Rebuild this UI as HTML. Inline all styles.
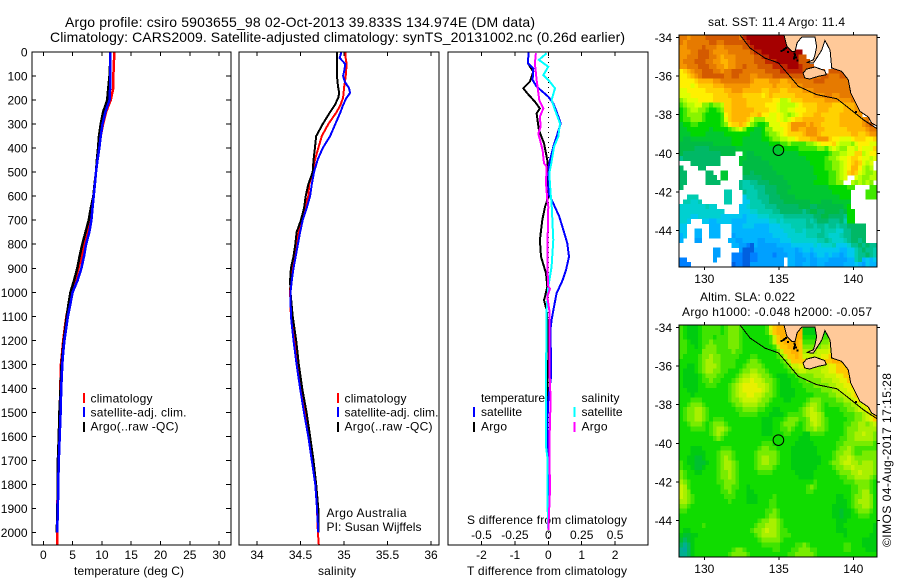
<!DOCTYPE html>
<html lang="en">
<head>
<meta charset="utf-8">
<title>Argo profile</title>
<style>
html,body{margin:0;padding:0;background:#fff;}
svg{display:block;}
text{font-family:"Liberation Sans",sans-serif;font-size:12px;fill:#000;}
.crisp{shape-rendering:crispEdges;}
</style>
</head>
<body>
<svg id="chart" xmlns="http://www.w3.org/2000/svg" width="900" height="580" viewBox="0 0 900 580">
<rect x="0" y="0" width="900" height="580" fill="#fff"/>
<text x="65" y="27" font-size="14" style="font-size:14px" textLength="470">Argo profile: csiro 5903655_98 02-Oct-2013 39.833S 134.974E (DM data)</text>
<text x="50" y="42" style="font-size:14px" textLength="575">Climatology: CARS2009. Satellite-adjusted climatology: synTS_20131002.nc (0.26d earlier)</text>

<text x="74" y="575" textLength="110">temperature (deg C)</text>
<text x="318" y="575" textLength="38">salinity</text>
<text x="467" y="575" textLength="160">T difference from climatology</text>
<text x="467" y="524" textLength="160">S difference from climatology</text>

<text x="90.5" y="402.5" textLength="62">climatology</text>
<text x="90.5" y="416.5" textLength="96">satellite-adj. clim.</text>
<text x="90.5" y="430.5" textLength="88">Argo(..raw -QC)</text>
<text x="344.5" y="402.5" textLength="62">climatology</text>
<text x="344.5" y="416.5" textLength="94">satellite-adj. clim.</text>
<text x="344.5" y="430.5" textLength="88">Argo(..raw -QC)</text>
<text x="326.5" y="517" textLength="80">Argo Australia</text>
<text x="326.5" y="531" textLength="95">PI: Susan Wijffels</text>

<text x="481" y="402" textLength="64">temperature</text>
<text x="581.5" y="402" textLength="38">salinity</text>
<text x="481" y="416" textLength="41">satellite</text>
<text x="481" y="430.5" textLength="26">Argo</text>
<text x="581.5" y="416" textLength="41">satellite</text>
<text x="581.5" y="430.5" textLength="26">Argo</text>

<text x="708" y="26" textLength="137">sat. SST: 11.4 Argo: 11.4</text>
<text x="700" y="301" textLength="95">Altim. SLA: 0.022</text>
<text x="682" y="316" textLength="190">Argo h1000: -0.048 h2000: -0.057</text>
<text transform="translate(891,547) rotate(-90)" textLength="174">©IMOS 04-Aug-2017 17:15:28</text>
</svg>
<script>
// ---------- chart data ----------
const depthTicks = [0,100,200,300,400,500,600,700,800,900,1000,1100,1200,1300,1400,1500,1600,1700,1800,1900,2000];
const tempTicks = [0,5,10,15,20,25,30];
const salTicks = [34,34.5,35,35.5,36];
const salTickLabels = ['34','34.5','35','35.5','36'];
const dtTicks = [-2,-1,0,1,2];
const dsTicks = [-0.5,-0.25,0,0.25,0.5];
const dsTickLabels = ['-0.5','-0.25','0','0.25','0.5'];
const lonTicks = [130,135,140];
const latTicks = [-34,-36,-38,-40,-42,-44];

const tempDepths = [0,50,100,150,200,250,300,350,400,450,500,550,600,650,700,750,800,850,900,950,1000,1050,1100,1150,1200,1250,1300,1400,1500,1600,1700,1800,1900,2000,2050];
const tempClim = [12.1,12.05,11.95,11.95,11.5,10.7,10.2,9.8,9.5,9.2,9.0,8.8,8.6,8.35,8.0,7.55,7.05,6.55,6.0,5.45,4.85,4.35,3.95,3.65,3.4,3.2,3.0,2.9,2.8,2.65,2.55,2.45,2.4,2.35,2.35];
const tempArgo = [11.4,11.4,11.3,11.1,10.9,10.2,9.8,9.5,9.35,9.15,9.0,8.75,8.55,8.1,7.75,7.2,6.65,6.2,5.8,5.25,4.65,4.3,4.0,3.75,3.5,3.3,3.1,2.95,2.75,2.65,2.5,2.5,2.4,2.3];
const tempSat = [11.4,11.4,11.4,11.4,11.3,10.6,10.1,9.8,9.55,9.25,9.0,8.8,8.6,8.4,8.2,7.85,7.3,6.95,6.5,5.85,5.0,4.6,4.2,3.9,3.6,3.4,3.25,3.05,2.95,2.8,2.65,2.55,2.5,2.35];

const salDepths = [0,25,50,75,100,125,150,170,190,220,250,300,350,400,450,500,550,600,650,700,750,800,850,900,950,1000,1100,1200,1300,1400,1500,1600,1700,1800,1900,2000,2050];
const salClim = [35.02,35.02,35.03,35.025,35.02,35.01,35.0,34.995,34.99,34.96,34.915,34.82,34.745,34.705,34.665,34.64,34.6,34.59,34.55,34.51,34.48,34.45,34.425,34.4,34.385,34.38,34.39,34.43,34.46,34.5,34.55,34.6,34.64,34.67,34.69,34.7,34.71];
const salArgo = [34.92,34.92,34.92,34.92,34.92,34.925,34.935,34.945,34.935,34.895,34.84,34.755,34.68,34.665,34.65,34.64,34.59,34.56,34.54,34.505,34.455,34.44,34.42,34.39,34.38,34.385,34.41,34.45,34.48,34.52,34.57,34.61,34.65,34.68,34.705,34.705];
const salSat = [34.97,34.95,35.015,35.005,34.99,35.01,35.057,35.07,35.03,34.99,34.96,34.9,34.84,34.755,34.695,34.655,34.63,34.61,34.57,34.525,34.495,34.47,34.445,34.42,34.4,34.385,34.39,34.42,34.455,34.495,34.54,34.59,34.63,34.67,34.69,34.705];

const dtSatDepths = [0,47,68,116,144,186,214,248,297,352,394,463,533,595,630,685,740,796,852,907,949,1004,1060,1115,1150,1351,1448,1552,1990];
const dtSat = [-0.59,-0.61,-0.45,-0.47,-0.35,0,0.15,0.25,0.37,0.25,0.15,0.03,0,0.02,0.15,0.33,0.45,0.57,0.62,0.53,0.43,0.25,0.17,0.1,0.07,0.08,0,-0.03,0];
const dtArgoDepths = [0,47,82,123,151,172,207,235,255,325,380,450,547,602,644,699,782,852,921,976,1018,1032,1074,1170,1281,1323,1545,1990];
const dtArgo = [-0.59,-0.61,-0.45,-0.55,-0.75,-0.63,-0.4,-0.25,-0.35,-0.28,-0.13,-0.03,-0.03,0,-0.1,-0.18,-0.25,-0.22,-0.07,-0.03,-0.1,-0.13,-0.05,0,0,-0.03,-0.03,0];
const dsSatDepths = [5,33,61,96,116,151,200,241,297,352,394,456,505,588,630,782,893,977,1074,1087,1379,1642,1684,1850,1989];
const dsSat = [-0.0125,-0.07,0,-0.0375,0,0.05,0.025,0.05,0.0875,0.075,0.0425,0.025,0.0075,0.0175,0.025,0.0375,0.025,0,-0.0125,-0.0125,-0.0175,-0.0175,-0.0075,-0.0075,0];
const dsArgoDepths = [5,47,116,200,235,269,311,339,408,463,477,547,616,644,782,893,977,984,1018,1074,1087,1310,1448,1642,1822,1989];
const dsArgo = [-0.0925,-0.1,-0.0875,-0.0675,-0.0375,-0.0625,-0.0575,-0.075,-0.0425,-0.0325,-0.0125,-0.0175,-0.0075,0,-0.005,-0.0075,0,0.0125,-0.0075,0.0075,0.0075,0.0075,0.0175,0.0075,0.0125,0];

// map palettes: one letter per colour class; '.' = no data
const sstColors = {A:'#a50000',B:'#c02800',C:'#d45a00',D:'#e67a00',E:'#f59500',F:'#ffb400',G:'#ffd200',H:'#fff000',I:'#e0ff00',J:'#b8ff00',K:'#88f400',L:'#40e800',M:'#00d800',N:'#00c830',O:'#00bb44',P:'#00b866',Q:'#00c090',R:'#00ccb0',S:'#00d0d0',T:'#00c8f0',U:'#00b4ff',V:'#00a0ff',W:'#0080ff',X:'#0060e0'};
const slaColors = {F:'#ffb000',G:'#ffc800',H:'#e8f000',I:'#c8f400',J:'#a8f000',K:'#78ec00',L:'#40e400',M:'#10dc00',N:'#00cc10',O:'#00c030',P:'#00b860',Q:'#00b090',R:'#00a8a0'};
const sstGrid = [
"DDEDDDDCCCCCCCCCDBAAAAAAAAAAA",
"DEDDDDDDCCDDCCCCCCBAAAAAAAAAA",
"EEDDDDCDDDEEDDDDDCCBAAAAAAAAAA",
"EEEDDCCCDEEEEDDDDDDCBBAAAAAAAAAAA",
"EEDDDCCCDDEFEEEDDDDDCCBBAAAAAAAACC",
"EDDDCCCDDEEFFEEDDDDDCCCBBBAAAAAACCC",
"EEDDDCCCDDEEFEEDDCDDDCCCCBBBBAAABCCC",
"HGFEDDCCCDDEDDCCCDDDDDDCCCCBBBBBBCCCCCC.CCCC",
"HHGFEDCCCCCCDDCCDDDEEDDDDCCCCCCCCCCCDDCCDDDCCCC",
"HHHHGFFFFEEDDDDDDDDEFFFFEEEFFEEDDDDDCCCDDDDDDD",
"HHHIHGGGGFFFEEEEEEEFFFFFFEFFFFEEEDDDDDDDDDDDDD",
"IIHHHHHGGGGGFFEEEFFFFFGGFFFGGFFFFEEEDDDDDDDDDD",
"IIIHHHHHHGGGGFFFFGGGGGHGFGGGGGGFFFFFEEEDDEEDDDD",
"KJIIIHHHHGGGGGFFFFGGGGGGGHHJJIGGGFFFFFFEEEEEEEDDC",
"LKJJIIKKLKKJGGFFFFGGGGGHHHIJJJJIHGGGGFFFFGGGFFFEE",
"MLKJJKKLMMLKGGFFFFFFGGGGHHIJJIIHHHGGGFFFGGGGFFFEE",
"MLKKKKLMMMMLHGFFFFFGGFHHIIHIJKJIHGGGFFGGGGGFFFFFE",
"MLLKKKLMMMMLIGFFFFGIKKKIIIHIJIHGGFFFFFFGGGGFFFFFFED",
"NMMLLMMMMMMLKHGGFGIKLMMLIIIHHGEEEEFEFFGGGGGFFFFFFEDC",
"NNMMMMMMNMMMMLKJIKMMNNMKKIIIHGEEFFEEEFFGGGGGGFFFFFEDD",
"NNNMMMMNNNNNMMMMMMMNNNMLKKJIHGGGGFEEEFGGGGGGGGFFGGFEE",
"NOONNNNNNNNNNNMMMNNNNNMMLKKJJIIHGGGFFEEEGHHIIIHGGGHHG",
"OOOOOOOOONNNNNMMMNNNNNNNMMMLLKLLLLKKJIHHHGIJJJKIHHHII",
"OOOOPPPPOOOOOOONNNNNNNNNNNNMMMMMLLLLLKKLJIJKKIIJHIIIG",
"OPPPPPPPPPPOOOO..NOONNNNNNNNNNNNMMMMMMMMLKKJJIIGGJIHH",
"QPPPPPPPPPP.....NNOOOONNNNNNNNNNNNMMMMMLKKJIIHGGHIIJI",
"...PPPPPPPP.....NOOOOOOONNNNNNNNNNNMMMMLLKKJIHGFGIJI.",
"P....PP..........OOOOOOOONNNNNNNNNNNMMMLLKKJIHFFHJKJ.",
"PP.....PP..NN....OOPOOOOOONNNNNNNNNNMMMMLLKJIGFGIJKKJ",
"PP.....PPP.NN....PPPPPOOOOOONNNNNNNNNMMMLLKJI..IJKKJJ",
"PP.....PPPP.....QRRQQPPPOOOOONNNNNNNMMMMLLKK..JKJKJK",
"P...............QRRRQQQPPPOOOONNNNNNNNNNMMMMMLL....LL",
"............RR...QRRRQQPPPOOONNNNNNNNNNNNMMMMM....LLL",
"..RRR.......RR...TRRRQQQPPPOOOONNNNNNNNNNNNMMM....LLL",
".RRSSR......RR...TTRRRQQPPPPOOOOOOONNNOOONNNNN......",
"SSSSSSSRSS......TTSRRRRQQQPPPPPPOOOPPOOOOOOONM......",
"SSSSSSSSSSSS....TTTSSRRRRQQPPPPPPQPOOPPOOOOPOMM.....",
"SSSTTSSSSSSTTTTTTUTTTSSSRRRRQQQQQQQQPPOOPPPPQMM.....",
"SST...TTUUTTTTUUUUTTTTTTSSRSRRRRRRQRQPPPQQQPRMM.....",
"TT......UUU...UUUTTTUUUUTTTSSSRRRRQQRQQRQQRQQPPPPP...",
"TT..UU..UUU...UUUUUUUUUUTTTTSSSRRSRRRRQRRRSSQQPPPP...",
"UT..UU..UUU...VUUUUUUUUUUTTTTSSSSSRRRQQRSSSRQQPPPP...",
"U...VV.......UUVVUUUUVVUUUUTTTSSSSSSSRRQRSSSRQPPQP...",
"..............UUVVWXUVVVVVUUUUTTTTTTSTSSSRTTTSQQPQPQQ",
".........VV.....VXXXVVVVVVVVUUUVUTTUTTTTTTTUUTTRQPQQR",
".........VV...WWWXXWWVVVVWVVVUUVVUUVUTTUTUUVUTTRQQPQR",
"WW.......V....WWWXXWWVVVVVVV.UUVVVUVVUUUVVVVVUURQUTUT",
"WWW...........XWWXXVVVVVVVVV.UUVVUUVVUUVVVVVUUUTUVTUU"
];
const slaGrid = [
"LMNNNMLLLLLMLKKKLMMMMMMLHGFFFFFFFNNNNNNNLLLLLLLLLLLLL",
"LMNNNMLLLLLMLKKKLMMMMMMLIGFFFFFFFNNNNNMMKKKKKKKKKKKKK",
"LMNNNMLLLMLLLKKKLMMMMMMMLIGFFFFFFMMMMMLLJJIIIIIIIIIII",
"LLMNNMLLKLLLLKKKLMMMMMMMLIGGFFFFGLLLLLKKJIIHHHHHHHHHH",
"LLMMNMLKKKLLLKKKLMMMMMMMMLIGGFFFGKKKKKJJIIHHGGGGGGGGG",
"LLMMMMKKKKLLLLKLLMMMMMMMMMKIGGFFGJJJJIIIHHGGGGFFFFFFF",
"LMMMMLKKJKKLLLLLMMMLLMMMMMLKIGGFGIIIIIHHGGFFFFFFFFFFF",
"MMMMMLKJJKKLLLLMMMLKKLMMMMMLKIGGGGHHIIHGGFFFFFFFFFFFF",
"MMNNMLKJJJKLLLLMMLKKKKLMMMMMLKIIHHHIIJJIHHGGGFFFFFFFF",
"MNNNMLKJJKKLLMMMLKKJJKKLMMMMMLKJIIJJJJIIHHGGGFFFFFFFF",
"MNNNNMLKKKLLMMMLKJJIIJKKLMNNNMMLKKKKJJJIIIHHGGGFFFFFF",
"MNNNNMLLKLLMMMLKJIIHIIJKKLMNNNMMLLKKKKJJJIIHHGGFFFFFF",
"MNNNNMMLLLMMMLKJIHHHHIIJKLMNNNMMMLLLKKKKJJIIHHGGFFFFF",
"MMNNNMMMMMMMMLKJIHHHHHIJKLMNNNNMMMLLLLKKKJJIIHHGGFFFF",
"MMMNMMMMMMMMMLKJIIHHIIJKKLMNNNNMMMMMLLLLKKJJIIHGGFFFF",
"MMMLLLMMMMMMMLKKJIIIIJKKLMMMNNMMMMLKKKLLLLKKJJIHGGFFF",
"MMLKKKLMMMMMMMLKKJJJJKKLMMMMMMMMMLKJJKLMLLLLKKJJIHGFF",
"MLKKJJKLMMMMMMMLLKKKKLLMMNNMMMMMLKJIJKLMMMMLLKKJIIHGF",
"MLKKJJKLMMMMMMMMLLLLLMMMNNNNMLLLLKJIIJKMMMMMLLLKKJIHG",
"MLKKJJKLMLLLMMMMMMMMMMNNNMMMLKKKLLKIIJKLMMMMMLLKKJIHG",
"MMLKKKLMLKKKLMMMMMMMMMNNNMMLKKKLMLKJIJKLMMMMLLKKJJKJI",
"MMMLLLLMLKJJKLMMMMMMMMNNNMMLLKLMMLKKJKKLMMMMLKKKJJJJJ",
"MMMMMMMMLKJKLMMMMMMMMMNNNMMMLLMMMNNLLLLMMMMMLKKJJIJJK",
"MMMMMMMMMLKLMMMMMMMMMMMMMMMMMMMMNNNMMMMMMMMLLKKJJJJJK",
"MMMMMMMMMMMMMMMMMMMMMMLLLMMMMMMNNNNNMMMMMMLLKKKKKKKKL",
"MMMNNNMMMMMLLLMMMMMMMLKKLLMMMMNNNNNNNMMMMMLKKJKLLLLLL",
"MMMNNNNMMMLKKKLMMMMMLKKKKKLMMMNNNNNNNMMMMLKKJJKLLKKKK",
"MMNNOONMMMLKJKLMMMMMLKJJKKLMMMNNNNNNNNMMMLKJJIJKKKKKK",
"LMNNOOONMMLKJJKLMMMMLKJJKKLMMMNNNNNNNNMMLKKJIIJJKJJJK",
"LMMNOONMMMLKJJKLMMMMLKKKKLMMMMNNNNNNNMMMMLKKJJIJJJJJK",
"KLMMNNMMMMLKKJKLMMMMMLLLLMMMMMMNNNNNMMMMMMLKKKJJIJJJK",
"KLMMMMMMMMLKKJKLMMMMMMMMMMMMMMMMNNNNMMMMMMMLLKKJJJJKL",
"JKLMMMMMMMLLKKKLMMMMMMMMMMMMMMMMMMMMLMMMMMMMLLLKKKKLM",
"IJLMMMMMMMMLKKLLMMNMMMMMMMMMMMMMMMLKLMMMMMMMMMLLKKKLM",
"IJKMMMMMMMMLLKLMMMNNMMMMMMMMMMMMMMLLMMMMMMMMMMLLKJJLM",
"IJKLMMMMMMMMLLLMMMNNNMMMMLMMMMMMMMMMMMMMMMNNMMLKKJJKM",
"JJKLMMMMMMMMMLMMMMNNNMMMLLMMMMMMMMMMMMMMMMNNNMLKJJJKM",
"KKLMMMMMMMMMMMMMMMMMMMMMLLMMMMMMMMMMMMMMMNNNNMLKKJJKM",
"LLMMMMMMMMMMMMMMMMMMMMMLLKLMMMMMMMMMMMMMMNNONNMLKKKLM",
"MMMMMMMMMMMMMMMMMMMMMMMLKKLMMMMMMMMMMMMMMNNONNMMLLLMM",
"MMMMMMMMMMMMMMMMMMMMMLKKJJKLMMMMMMMMMMMMMMNNNMMMMMMMM",
"MMMMMMLMMMMMMMMMMMMMLKKJJJKLMMMMMMMMMMMMMMNNMMMMMMMMN",
"MNNMMMMMMMMMMMMMMMMLKKJIJJKLLMMMMMMMMMMMMMNNNMMMMMMMN",
"NOONNMMMMMMMMMMMMMMMLKJJJJKLLLMMMMMMMMMMMMMMNMMMMMMNN",
"OPONMMMMMMMMMMMMMMMMMLKKKKKLMMMMMMMMMMMMMMMMMMMMMNNNN",
"PQPNMMMMMMMMMMMMMMMMMMLLLLLMMMMLLKLMMMMMMMMMLLMMMNNNN",
"QRPNMMMMMMMMMMLKKLMMMMMMMLLMMMLLKKKLLMMMMMMMLLMMMMNNN",
"QQPNMMMMMMMMMLKKKKLMMMMMMMMMMLLKKKKKLMMMMMMMMMMMMMMMM"
];
// coastline geography, lon/lat
const coastLon = [135.35,135.55,135.89,136.09,136.23,136.56,137.43,137.54,137.43,137.32,136.88,137.32,137.88,138.10,138.44,138.55,139.22,139.66,139.83,140.45,141.01,141.23,141.61,141.61];
const coastLat = [-33.88,-34.48,-34.74,-34.74,-34.28,-33.97,-33.97,-34.48,-34.90,-35.16,-35.3,-35.33,-34.66,-34.16,-34.66,-35.58,-35.76,-36.19,-36.88,-37.83,-38.12,-38.43,-38.60,-33.88];
const islandLon = [136.63,136.86,137.41,138.08,138.19,137.63,137.07,136.74];
const islandLat = [-35.84,-35.64,-35.53,-35.71,-35.93,-36.02,-36.15,-36.10];
const shelfLon = [132.40,133.07,134.07,134.97,135.75,136.31,137.54,138.89,139.56,140.67,141.61];
const shelfLat = [-33.88,-34.55,-35.07,-35.32,-36.02,-36.53,-36.96,-37.17,-37.57,-38.26,-38.74];
const reefLon = [135.1,135.25,135.3,135.4,135.55,135.97,136.03,136.0,136.1,135.95,136.2,140.1];
const reefLat = [-34.65,-34.6,-34.55,-34.5,-34.7,-34.78,-34.85,-34.95,-35.0,-35.05,-35.15,-37.8];
const profileLon = 134.974;
const profileLat = -39.833;

// ---------- axis functions ----------
const yDepth = d => 52 + d * 0.2403;
const xTemp = t => 43.3 + 5.86 * t;
const xSal = s => 257 + 87 * (s - 34);
const xDT = v => 548.3 + 33.4 * v;
const xDS = v => 548.3 + 133.6 * v;
const xLon = lon => 704.3 + 14.9 * (lon - 130);
const yLat = (lat, top) => top + 2.4 + 19.33 * (-34 - lat);

const svg = document.getElementById('chart');
const NS = 'http://www.w3.org/2000/svg';
function mk(tag, attrs, parent) {
  const el = document.createElementNS(NS, tag);
  for (const k in attrs) el.setAttribute(k, attrs[k]);
  (parent || svg).appendChild(el);
  return el;
}

function frame(x, y, w, h, name) {
  const el = mk('rect', {x: x, y: y, width: w, height: h, fill: 'none', stroke: '#000', 'stroke-width': 1, class: 'crisp'});
  
  
}
function tick(x1, y1, x2, y2, name) {
  const el = mk('line', {x1: x1, y1: y1, x2: x2, y2: y2, stroke: '#000', 'stroke-width': 1, class: 'crisp'});
  
  
}
function label(x, y, str, anchor, name) {
  const el = mk('text', {x: x, y: y, 'text-anchor': anchor});
  el.textContent = str;
  
  
}
function series(depths, values, xFn, color, width, name) {
  const pts = values.map((v, i) => xFn(v).toFixed(1) + ',' + yDepth(depths[i]).toFixed(1)).join(' ');
  const el = mk('polyline', {points: pts, fill: 'none', stroke: color, 'stroke-width': width, class: 'crisp'});
  
  
}
function legendBar(x, y, color, name) {
  const el = mk('rect', {x: x, y: y, width: 2, height: 10, fill: color, class: 'crisp'});
  
  
}

// ---------- panels ----------
const PT = 52, PB = 545;
// temperature panel
series(tempDepths, tempClim, xTemp, '#ff0000', 2.5, 'temperature-climatology-line');
series(tempDepths, tempArgo, xTemp, '#000000', 2.5, 'temperature-argo-line');
series(tempDepths, tempSat, xTemp, '#0000ff', 2.5, 'temperature-satellite-line');
frame(32, PT, 199, PB - PT, 'temperature-panel-frame');
depthTicks.forEach(d => {
  tick(32, yDepth(d), 36, yDepth(d), 'depth-tick-left');
  tick(231, yDepth(d), 226, yDepth(d), 'depth-tick-right');
  label(27.5, yDepth(d) + 4.5, String(d), 'end', 'depth-tick-label');
});
tempTicks.forEach(t => {
  tick(xTemp(t), PT, xTemp(t), PT + 4, 'temperature-tick-top');
  tick(xTemp(t), PB, xTemp(t), PB - 4, 'temperature-tick-bottom');
  label(xTemp(t), 559, String(t), 'middle', 'temperature-tick-label');
});
legendBar(83, 393, '#ff0000', 'legend-bar-climatology-t');
legendBar(83, 407, '#0000ff', 'legend-bar-satellite-t');
legendBar(83, 422, '#000000', 'legend-bar-argo-t');

// salinity panel
series(salDepths, salClim, xSal, '#ff0000', 2, 'salinity-climatology-line');
series(salDepths, salArgo, xSal, '#000000', 2, 'salinity-argo-line');
series(salDepths, salSat, xSal, '#0000ff', 2, 'salinity-satellite-line');
frame(239, PT, 200, PB - PT, 'salinity-panel-frame');
salTicks.forEach((s, i) => {
  tick(xSal(s), PT, xSal(s), PT + 4, 'salinity-tick-top');
  tick(xSal(s), PB, xSal(s), PB - 4, 'salinity-tick-bottom');
  label(xSal(s), 559, salTickLabels[i], 'middle', 'salinity-tick-label');
});
legendBar(337, 393, '#ff0000', 'legend-bar-climatology-s');
legendBar(337, 407, '#0000ff', 'legend-bar-satellite-s');
legendBar(337, 422, '#000000', 'legend-bar-argo-s');

// difference panel
const zero = mk('line', {x1: xDT(0), y1: PT, x2: xDT(0), y2: PB, stroke: '#000', 'stroke-width': 1, 'stroke-dasharray': '1 4', class: 'crisp'});


series(dtArgoDepths, dtArgo, xDT, '#000000', 2, 'delta-t-argo-line');
series(dtSatDepths, dtSat, xDT, '#0000ff', 2, 'delta-t-satellite-line');
series(dsSatDepths, dsSat, xDS, '#00ffff', 2, 'delta-s-satellite-line');
series(dsArgoDepths, dsArgo, xDS, '#ff00ff', 2, 'delta-s-argo-line');
frame(448, PT, 200, PB - PT, 'difference-panel-frame');
dtTicks.forEach(v => {
  tick(xDT(v), PT, xDT(v), PT + 4, 'delta-t-tick-top');
  tick(xDT(v), PB, xDT(v), PB - 4, 'delta-t-tick-bottom');
  label(xDT(v), 559, String(v), 'middle', 'delta-t-tick-label');
});
dsTicks.forEach((v, i) => {
  label(xDS(v), 539, dsTickLabels[i], 'middle', 'delta-s-tick-label');
});
legendBar(473, 407, '#0000ff', 'legend-bar-satellite-dt');
legendBar(473, 422, '#000000', 'legend-bar-argo-dt');
legendBar(573.5, 407, '#00ffff', 'legend-bar-satellite-ds');
legendBar(573.5, 422, '#ff00ff', 'legend-bar-argo-ds');

// ---------- maps ----------
const LON0 = 128.33, LAT0 = -33.88, DLL = 0.25;
function path(lons, lats, top) {
  return lons.map((lon, i) => (i ? 'L' : 'M') + xLon(lon).toFixed(1) + ' ' + yLat(lats[i], top).toFixed(1)).join(' ');
}
function drawMap(grid, palette, top, prefix) {
  const left = 679, w = 198, h = 232;
  const g = mk('g', {'clip-path': 'url(#' + prefix + '-clip)'});
  
  
  const defs = mk('defs', {});
  const cp = mk('clipPath', {id: prefix + '-clip'}, defs);
  mk('rect', {x: left, y: top, width: w, height: h}, cp);
  grid.forEach((row, r) => {
    for (let c = 0; c < 53; c++) {
      const key = row[c];
      if (!key || key === '.') continue;
      const x0 = xLon(LON0 + c * DLL), x1 = xLon(LON0 + (c + 1) * DLL);
      const y0 = yLat(LAT0 - r * DLL, top), y1 = yLat(LAT0 - (r + 1) * DLL, top);
      const cell = mk('rect', {x: x0.toFixed(2), y: y0.toFixed(2), width: (x1 - x0 + 0.3).toFixed(2), height: (y1 - y0 + 0.3).toFixed(2), fill: palette[key], class: 'crisp'}, g);
      
      
    }
  });
  const land = mk('path', {d: path(coastLon, coastLat, top) + ' Z', fill: '#ffc999', stroke: '#000', 'stroke-width': 1, class: 'crisp'}, g);
  
  
  const island = mk('path', {d: path(islandLon, islandLat, top) + ' Z', fill: '#ffc999', stroke: '#000', 'stroke-width': 1, class: 'crisp'}, g);
  
  
  const shelf = mk('path', {d: path(shelfLon, shelfLat, top), fill: 'none', stroke: '#000', 'stroke-width': 1, class: 'crisp'}, g);
  
  
  reefLon.forEach((lon, i) => {
    const dot = mk('rect', {x: xLon(lon).toFixed(1), y: yLat(reefLat[i], top).toFixed(1), width: 2, height: 2, fill: '#000', class: 'crisp'}, g);
    
    
  });
  const marker = mk('circle', {cx: xLon(profileLon), cy: yLat(profileLat, top), r: 5.3, fill: 'none', stroke: '#000', 'stroke-width': 1}, g);
  
  
  frame(left, top, w, h, prefix + '-map-frame');
  lonTicks.forEach(lon => {
    tick(xLon(lon), top, xLon(lon), top - 3, prefix + '-lon-tick-top');
    tick(xLon(lon), top + h, xLon(lon), top + h + 3, prefix + '-lon-tick-bottom');
    label(xLon(lon), top + h + 16, String(lon), 'middle', prefix + '-lon-tick-label');
  });
  latTicks.forEach(lat => {
    tick(left, yLat(lat, top), left - 3, yLat(lat, top), prefix + '-lat-tick-left');
    tick(left + w, yLat(lat, top), left + w + 3, yLat(lat, top), prefix + '-lat-tick-right');
    label(672, yLat(lat, top) + 4.5, String(lat), 'end', prefix + '-lat-tick-label');
  });
}
drawMap(sstGrid, sstColors, 35, 'sst');
drawMap(slaGrid, slaColors, 325, 'sla');
</script>
</body>
</html>
